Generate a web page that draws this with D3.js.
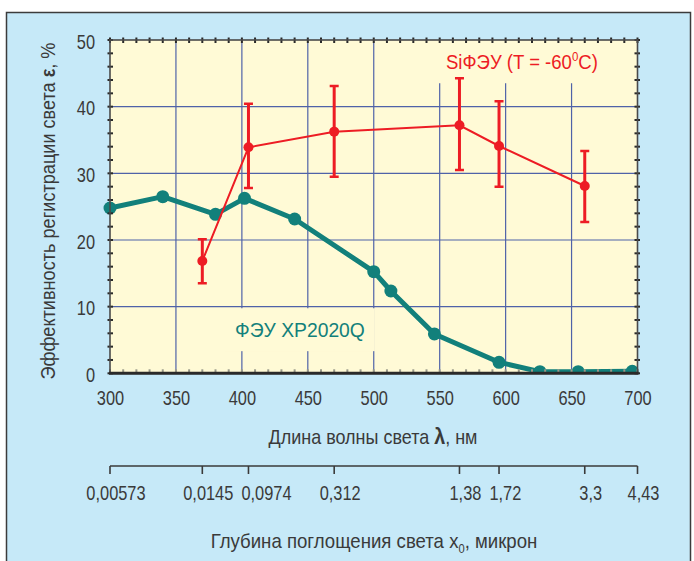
<!DOCTYPE html>
<html>
<head>
<meta charset="utf-8">
<script src="https://cdn.jsdelivr.net/npm/d3@7"></script>
<style>
  html, body { margin: 0; padding: 0; background: #ffffff; }
  svg { display: block; }
  text { font-family: "Liberation Sans", "DejaVu Sans", sans-serif; }
</style>
</head>
<body>
<svg id="chart" width="694" height="561"></svg>
<script>
// Photomultiplier (ФЭУ XP2020Q) quantum efficiency, %
const pmtWavelength = [300, 340, 380, 402, 440, 500, 513, 546, 595, 626, 655, 696];
const pmtEfficiency = [24.8, 26.5, 23.85, 26.25, 23.15, 15.25, 12.35, 5.9, 1.65, 0.25, 0.25, 0.3];

// Silicon photomultiplier (SiФЭУ, T = -60 °C) efficiency with error bars, %
const sipmWavelength = [370, 405, 470, 565, 595, 660];
const sipmEfficiency = [16.85, 33.9, 36.25, 37.2, 34.1, 28.1];
const sipmUpper = [20.1, 40.45, 43.1, 44.25, 40.8, 33.35];
const sipmLower = [13.5, 27.8, 29.5, 30.5, 28.0, 22.7];

// Axis ticks
const wavelengthTicks = [300, 350, 400, 450, 500, 550, 600, 650, 700];
const efficiencyTicks = [0, 10, 20, 30, 40, 50];

// Light absorption depth in silicon at selected wavelengths
const depthWavelength = [300, 370, 405, 470, 565, 595, 660, 700];
const depthLabels = ["0,00573", "0,0145", "0,0974", "0,312", "1,38", "1,72", "3,3", "4,43"];

const svg = d3.select("#chart");
const W = 694, H = 561;
const plot = { left: 110, right: 637.5, top: 40, bottom: 373.3 };

const x = d3.scaleLinear().domain([300, 700]).range([plot.left, plot.right]);
const y = d3.scaleLinear().domain([0, 50]).range([plot.bottom, plot.top]);

const RED = "#ed1c24";
const TEAL = "#12807b";
const GRID = "#4f62a8";
const INK = "#2a2a2a";
const TXT = "#3a3a3a";
const NARROW = 0.82;

// Place a text at (tx, ty) squeezed horizontally for a narrow typeface look.
// Either a fixed factor or a target width can be given.
function narrowText(t, tx, ty, opts) {
  const w = t.node().getComputedTextLength();
  const s = opts.width ? opts.width / w : opts.factor;
  t.attr("x", 0).attr("y", 0)
    .attr("transform", `translate(${tx},${ty})${opts.rotate ? ` rotate(${opts.rotate})` : ""} scale(${s},1)`);
  return w * s;
}

// Light-blue panel with dark border
svg.append("rect").attr("x", 0).attr("y", 0).attr("width", W).attr("height", H).attr("fill", "#ffffff");
svg.append("rect")
  .attr("x", 6.5).attr("y", 12.5).attr("width", 684).attr("height", 560)
  .attr("fill", "#c6e9f8").attr("stroke", "#3c3c3c").attr("stroke-width", 1.5);

// Plot background
svg.append("rect")
  .attr("x", plot.left).attr("y", plot.top)
  .attr("width", plot.right - plot.left).attr("height", plot.bottom - plot.top)
  .attr("fill", "#fffad6");

// Grid
const grid = svg.append("g");
grid.selectAll(".vg").data(wavelengthTicks.slice(1, -1)).join("line")
  .attr("x1", d => x(d)).attr("x2", d => x(d))
  .attr("y1", plot.top).attr("y2", plot.bottom)
  .attr("stroke", GRID).attr("stroke-width", 1.2);
grid.selectAll(".hg").data(efficiencyTicks.slice(1, -1)).join("line")
  .attr("x1", plot.left).attr("x2", plot.right)
  .attr("y1", d => y(d)).attr("y2", d => y(d))
  .attr("stroke", GRID).attr("stroke-width", 1.2);

// Series labels sit on plot-coloured boxes that hide the grid behind them
const labels = svg.append("g");
function seriesLabel(tx, ty, color, width, build) {
  const box = labels.append("rect").attr("fill", "#fffad6");
  const t = labels.append("text").attr("fill", color).attr("font-size", 21);
  build(t);
  narrowText(t, tx, ty, { width });
  const b = t.node().getBoundingClientRect();
  const top = Math.max(plot.top, b.top - 10);
  box.attr("x", b.left - 10).attr("y", top)
    .attr("width", b.width + 20).attr("height", b.bottom + 10 - top);
  return t;
}
seriesLabel(446, 69, RED, 152, t => {
  t.append("tspan").text("SiФЭУ  (T = -60");
  t.append("tspan").attr("font-size", 13).attr("dy", -8).text("0");
  t.append("tspan").attr("dy", 8).text("C)");
});
seriesLabel(235, 337, TEAL, 130, t => t.text("ФЭУ  XP2020Q"));

// Teal PMT curve
const pmt = pmtWavelength.map((w, i) => [w, pmtEfficiency[i]]);
const line = d3.line().x(d => x(d[0])).y(d => y(d[1]));
svg.append("clipPath").attr("id", "plotclip").append("rect")
  .attr("x", plot.left - 10).attr("y", plot.top - 10)
  .attr("width", plot.right - plot.left + 20).attr("height", plot.bottom - plot.top + 10);
const series = svg.append("g").attr("clip-path", "url(#plotclip)");
series.append("path").datum(pmt).attr("d", line)
  .attr("fill", "none").attr("stroke", TEAL).attr("stroke-width", 5).attr("stroke-linejoin", "round");
series.selectAll(".pmtpt").data(pmt).join("circle")
  .attr("cx", d => x(d[0])).attr("cy", d => y(d[1])).attr("r", 6.5).attr("fill", TEAL);

// Red SiPM curve with error bars
const sipm = sipmWavelength.map((w, i) => ({ w, v: sipmEfficiency[i], hi: sipmUpper[i], lo: sipmLower[i] }));
series.append("path").datum(sipm.map(d => [d.w, d.v])).attr("d", line)
  .attr("fill", "none").attr("stroke", RED).attr("stroke-width", 2);
const eb = series.selectAll(".eb").data(sipm).join("g");
eb.append("line")
  .attr("x1", d => x(d.w)).attr("x2", d => x(d.w))
  .attr("y1", d => y(d.hi)).attr("y2", d => y(d.lo))
  .attr("stroke", RED).attr("stroke-width", 3);
eb.append("line")
  .attr("x1", d => x(d.w) - 4.5).attr("x2", d => x(d.w) + 4.5)
  .attr("y1", d => y(d.hi)).attr("y2", d => y(d.hi))
  .attr("stroke", RED).attr("stroke-width", 2.5);
eb.append("line")
  .attr("x1", d => x(d.w) - 4.5).attr("x2", d => x(d.w) + 4.5)
  .attr("y1", d => y(d.lo)).attr("y2", d => y(d.lo))
  .attr("stroke", RED).attr("stroke-width", 2.5);
eb.append("circle")
  .attr("cx", d => x(d.w)).attr("cy", d => y(d.v)).attr("r", 5).attr("fill", RED);

// Frame with minor ticks on every side
const frame = svg.append("g");
const minorX = d3.range(300, 701, 10);
const minorY = d3.range(0, 51, 2);
frame.selectAll(".mt").data(minorX).join("line")
  .attr("x1", d => x(d)).attr("x2", d => x(d))
  .attr("y1", plot.top - 2.5).attr("y2", plot.top + 3).attr("stroke", INK).attr("stroke-width", 2);
frame.selectAll(".mb").data(minorX).join("line")
  .attr("x1", d => x(d)).attr("x2", d => x(d))
  .attr("y1", plot.bottom - 4).attr("y2", plot.bottom).attr("stroke", "#9a9a8a").attr("stroke-width", 2);
frame.selectAll(".ml").data(minorY).join("line")
  .attr("x1", plot.left - 2.5).attr("x2", plot.left + 3)
  .attr("y1", d => y(d)).attr("y2", d => y(d)).attr("stroke", INK).attr("stroke-width", 2);
frame.selectAll(".mr").data(minorY).join("line")
  .attr("x1", plot.right - 3).attr("x2", plot.right + 2.5)
  .attr("y1", d => y(d)).attr("y2", d => y(d)).attr("stroke", INK).attr("stroke-width", 2);
frame.append("rect")
  .attr("x", plot.left).attr("y", plot.top)
  .attr("width", plot.right - plot.left).attr("height", plot.bottom - plot.top)
  .attr("fill", "none").attr("stroke", "#4a4a4a").attr("stroke-width", 1.6);
frame.append("line")
  .attr("x1", plot.left - 1).attr("x2", plot.right + 1)
  .attr("y1", plot.bottom).attr("y2", plot.bottom)
  .attr("stroke", INK).attr("stroke-width", 3);

// Wavelength axis labels
const xAxis = svg.append("g").attr("transform", `translate(0,${plot.bottom})`)
  .call(d3.axisBottom(x).tickValues(wavelengthTicks).tickSize(0).tickPadding(0));
xAxis.select(".domain").remove();
xAxis.selectAll("text").attr("dy", null)
  .attr("font-size", 20).attr("fill", TXT).attr("font-family", null)
  .each(function () { narrowText(d3.select(this), 0, 32, { factor: NARROW }); });

// Efficiency axis labels
const yAxis = svg.append("g").attr("transform", `translate(${plot.left},0)`)
  .call(d3.axisLeft(y).tickValues(efficiencyTicks).tickSize(0).tickPadding(15));
yAxis.select(".domain").remove();
yAxis.selectAll("text").attr("dy", null).attr("dominant-baseline", "central")
  .attr("font-size", 20).attr("fill", TXT).attr("font-family", null)
  .each(function () { narrowText(d3.select(this), -15, 1, { factor: NARROW }); });

// Axis titles
const xt = svg.append("text").attr("text-anchor", "middle")
  .attr("font-size", 20).attr("fill", TXT);
xt.append("tspan").text("Длина волны света ");
xt.append("tspan").attr("font-weight", "bold").attr("font-size", 22).text("λ");
xt.append("tspan").text(", нм");
narrowText(xt, 373, 444, { width: 209 });

const yt = svg.append("text").attr("text-anchor", "middle").attr("font-size", 20).attr("fill", TXT);
yt.append("tspan").text("Эффективность регистрации света ");
yt.append("tspan").attr("font-weight", "bold").text("ε");
yt.append("tspan").text(", %");
narrowText(yt, 55, 211, { width: 337, rotate: -90 });

// Absorption-depth axis
const depthY = 466;
const dAxis = svg.append("g");
dAxis.append("line")
  .attr("x1", x(depthWavelength[0])).attr("x2", x(depthWavelength[depthWavelength.length - 1]))
  .attr("y1", depthY).attr("y2", depthY).attr("stroke", "#3a3a3a").attr("stroke-width", 1.6);
dAxis.selectAll(".dt").data(depthWavelength).join("line")
  .attr("x1", d => x(d)).attr("x2", d => x(d))
  .attr("y1", depthY).attr("y2", depthY + 8).attr("stroke", "#3a3a3a").attr("stroke-width", 1.6);
// centre labels slightly right of their ticks, nudging apart any that would collide
let prevEnd = -Infinity;
dAxis.selectAll(".dl").data(depthWavelength).join("text")
  .attr("text-anchor", "start").attr("font-size", 20).attr("fill", TXT)
  .text((d, i) => depthLabels[i])
  .each(function (d) {
    const w = this.getComputedTextLength() * NARROW;
    let start = x(d) + 6 - w / 2;
    if (start < prevEnd + 8) start = prevEnd + 8;
    narrowText(d3.select(this), start, depthY + 34, { factor: NARROW });
    prevEnd = start + w;
  });

const dt = svg.append("text").attr("text-anchor", "middle").attr("font-size", 20).attr("fill", TXT);
dt.append("tspan").text("Глубина поглощения света  x");
dt.append("tspan").attr("font-size", 12).attr("dy", 5).text("0");
dt.append("tspan").attr("dy", -5).text(", микрон");
narrowText(dt, 374, 548, { width: 327 });
</script>
</body>
</html>
